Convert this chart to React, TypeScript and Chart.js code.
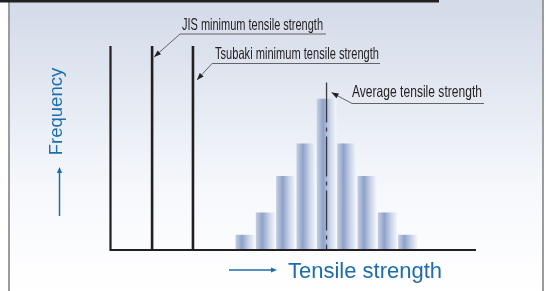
import React, { useEffect, useRef } from "react";
import { Chart, registerables } from "chart.js";

Chart.register(...registerables);

// ---- data ----
const strengthBins = [7, 8, 9, 10, 11, 12, 13, 14, 15];
const frequencies = [7, 18, 36, 52, 74, 52, 36, 18, 7];
const jisMinimum = 2.42;
const tsubakiMinimum = 4.43;
const averageStrength = 11;
const averageLineTop = 82;
const xRange = [0.35, 18.35];
const yRange = [0, 100];
const jisLabel = "JIS minimum tensile strength";
const tsubakiLabel = "Tsubaki minimum tensile strength";
const averageLabel = "Average tensile strength";
const xTitle = "Tensile strength";
const yTitle = "Frequency";

const DARK = "#231f20";
const BLUE = "#1d6dab";
const NARROW = "'Liberation Sans', Arial, sans-serif";

function arrowHead(ctx: CanvasRenderingContext2D, fx: number, fy: number, tx: number, ty: number, len: number, half: number, color: string) {
  const a = Math.atan2(ty - fy, tx - fx);
  ctx.save();
  ctx.fillStyle = color;
  ctx.beginPath();
  ctx.moveTo(tx, ty);
  ctx.lineTo(tx - len * Math.cos(a) + half * Math.sin(a), ty - len * Math.sin(a) - half * Math.cos(a));
  ctx.lineTo(tx - len * Math.cos(a) - half * Math.sin(a), ty - len * Math.sin(a) + half * Math.cos(a));
  ctx.closePath();
  ctx.fill();
  ctx.restore();
}

function fitText(ctx: CanvasRenderingContext2D, text: string, x: number, baseline: number, width: number, size: number) {
  ctx.save();
  ctx.font = `${size}px ${NARROW}`;
  const w = ctx.measureText(text).width;
  ctx.translate(x, baseline);
  ctx.scale(width / w, 1);
  ctx.fillStyle = DARK;
  ctx.textAlign = "left";
  ctx.textBaseline = "alphabetic";
  ctx.fillText(text, 0, 0);
  ctx.restore();
}

function leader(ctx: CanvasRenderingContext2D, pts: number[][], tip: number[]) {
  ctx.save();
  ctx.strokeStyle = "#555";
  ctx.lineWidth = 0.9;
  ctx.beginPath();
  ctx.moveTo(pts[0][0], pts[0][1]);
  for (let i = 1; i < pts.length; i++) ctx.lineTo(pts[i][0], pts[i][1]);
  ctx.lineTo(tip[0], tip[1]);
  ctx.stroke();
  const last = pts[pts.length - 1];
  arrowHead(ctx, last[0], last[1], tip[0], tip[1], 7, 2.6, DARK);
  ctx.restore();
}

const framePlugin = {
  id: "frame",
  beforeDraw(chart: any) {
    const ctx: CanvasRenderingContext2D = chart.ctx;
    const W = chart.width, H = chart.height;
    ctx.save();
    ctx.fillStyle = "#ffffff";
    ctx.fillRect(0, 0, W, H);
    const g = ctx.createLinearGradient(0, 0, 0, H);
    g.addColorStop(0, "#d3dae8");
    g.addColorStop(0.35, "#e5eaf3");
    g.addColorStop(0.65, "#f6f8fc");
    g.addColorStop(1, "#ffffff");
    ctx.fillStyle = g;
    ctx.fillRect(10, 0, 532, H);
    ctx.fillStyle = "#9c9c9c";
    ctx.fillRect(8, 0, 2, H);
    ctx.fillRect(542, 0, 2, H);
    ctx.fillStyle = DARK;
    ctx.fillRect(0, 0, 439, 2.5);
    ctx.restore();
  },
  afterDatasetsDraw(chart: any) {
    const ctx: CanvasRenderingContext2D = chart.ctx;
    const { left, right, top, bottom } = chart.chartArea;
    ctx.save();
    ctx.strokeStyle = DARK;
    ctx.lineWidth = 2.2;
    ctx.beginPath();
    ctx.moveTo(left + 0.5, top);
    ctx.lineTo(left + 0.5, bottom + 1);
    ctx.lineTo(right, bottom + 1);
    ctx.stroke();
    ctx.restore();
  },
  afterDraw(chart: any) {
    const ctx: CanvasRenderingContext2D = chart.ctx;
    const xs = chart.scales.x, ys = chart.scales.y;
    const jx = xs.getPixelForValue(jisMinimum);
    const tx = xs.getPixelForValue(tsubakiMinimum);
    const ax = xs.getPixelForValue(averageStrength);
    const ay = ys.getPixelForValue(averageLineTop);

    // JIS label
    fitText(ctx, jisLabel, 182, 29.5, 141, 16.5);
    leader(ctx, [[326, 34], [180, 34]], [jx + 2, 57]);
    // Tsubaki label
    fitText(ctx, tsubakiLabel, 215, 58.5, 164, 16.5);
    leader(ctx, [[380, 63.5], [212, 63.5]], [tx + 4, 80]);
    // Average label
    fitText(ctx, averageLabel, 352, 96.5, 130, 16.5);
    leader(ctx, [[484, 103.5], [352, 103.5]], [ax + 5, ay + 10]);

    // Y title
    ctx.save();
    ctx.fillStyle = BLUE;
    ctx.font = `18.5px ${NARROW}`;
    ctx.translate(61.5, 111.5);
    ctx.rotate(-Math.PI / 2);
    ctx.textAlign = "center";
    ctx.textBaseline = "alphabetic";
    ctx.fillText(yTitle, 0, 0);
    ctx.restore();
    // Y arrow
    ctx.save();
    ctx.strokeStyle = BLUE;
    ctx.lineWidth = 1.5;
    ctx.beginPath();
    ctx.moveTo(59.5, 216);
    ctx.lineTo(59.5, 172);
    ctx.stroke();
    arrowHead(ctx, 59.5, 216, 59.5, 167, 6, 2.6, BLUE);
    // X arrow
    ctx.beginPath();
    ctx.moveTo(229, 270);
    ctx.lineTo(272, 270);
    ctx.stroke();
    arrowHead(ctx, 229, 270, 277, 270, 6, 2.6, BLUE);
    ctx.restore();

    // X title
    ctx.save();
    ctx.fillStyle = BLUE;
    ctx.font = `22px ${NARROW}`;
    ctx.textAlign = "left";
    ctx.textBaseline = "alphabetic";
    ctx.fillText(xTitle, 288, 277.5);
    ctx.restore();
  },
};

function barFill(c: any) {
  const chart = c.chart;
  const xs = chart.scales && chart.scales.x;
  if (!xs || !c.raw || !chart.chartArea) return "#a9b8d7";
  const l = xs.getPixelForValue(c.raw.x - 0.48);
  const r = xs.getPixelForValue(c.raw.x + 0.48);
  if (!isFinite(l) || !isFinite(r)) return "#a9b8d7";
  const g = chart.ctx.createLinearGradient(l, 0, r, 0);
  g.addColorStop(0, "#c6d0e4");
  g.addColorStop(0.33, "#8ea2c9");
  g.addColorStop(0.68, "#c9d4e8");
  g.addColorStop(1, "#f5f7fb");
  return g;
}

export default function App() {
  const ref = useRef<HTMLCanvasElement | null>(null);
  useEffect(() => {
    if (!ref.current) return;
    const vline = (x: number, top: number) => [
      { x, y: yRange[0] },
      { x, y: top },
    ];
    const chart = new Chart(ref.current, {
      type: "bar",
      data: {
        datasets: [
          {
            type: "bar",
            label: "Frequency",
            data: strengthBins.map((x, i) => ({ x, y: frequencies[i] })),
            backgroundColor: barFill as any,
            borderWidth: 0,
            barPercentage: 0.96,
            categoryPercentage: 1,
            order: 3,
          } as any,
          {
            type: "line",
            label: jisLabel,
            data: vline(jisMinimum, yRange[1]),
            borderColor: DARK,
            borderWidth: 2.6,
            pointRadius: 0,
            order: 1,
          },
          {
            type: "line",
            label: tsubakiLabel,
            data: vline(tsubakiMinimum, yRange[1]),
            borderColor: DARK,
            borderWidth: 2.6,
            pointRadius: 0,
            order: 1,
          },
          {
            type: "line",
            label: averageLabel,
            data: vline(averageStrength, averageLineTop).reverse(),
            borderColor: "#3b3b3f",
            borderWidth: 1.3,
            borderDash: [40, 5, 4, 5],
            pointRadius: 0,
            order: 1,
          },
        ],
      },
      options: {
        animation: false,
        responsive: true,
        maintainAspectRatio: false,
        events: [],
        layout: { padding: { left: 110, right: 70, top: 46, bottom: 42 } },
        plugins: { legend: { display: false }, tooltip: { enabled: false } },
        scales: {
          x: { type: "linear", display: false, min: xRange[0], max: xRange[1], offset: false },
          y: { type: "linear", display: false, min: yRange[0], max: yRange[1] },
        },
      },
      plugins: [framePlugin],
    });
    chart.update();
    return () => chart.destroy();
  }, []);
  return (
    <div style={{ position: "absolute", left: 0, top: 0, width: 546, height: 291 }}>
      <canvas ref={ref} />
    </div>
  );
}
